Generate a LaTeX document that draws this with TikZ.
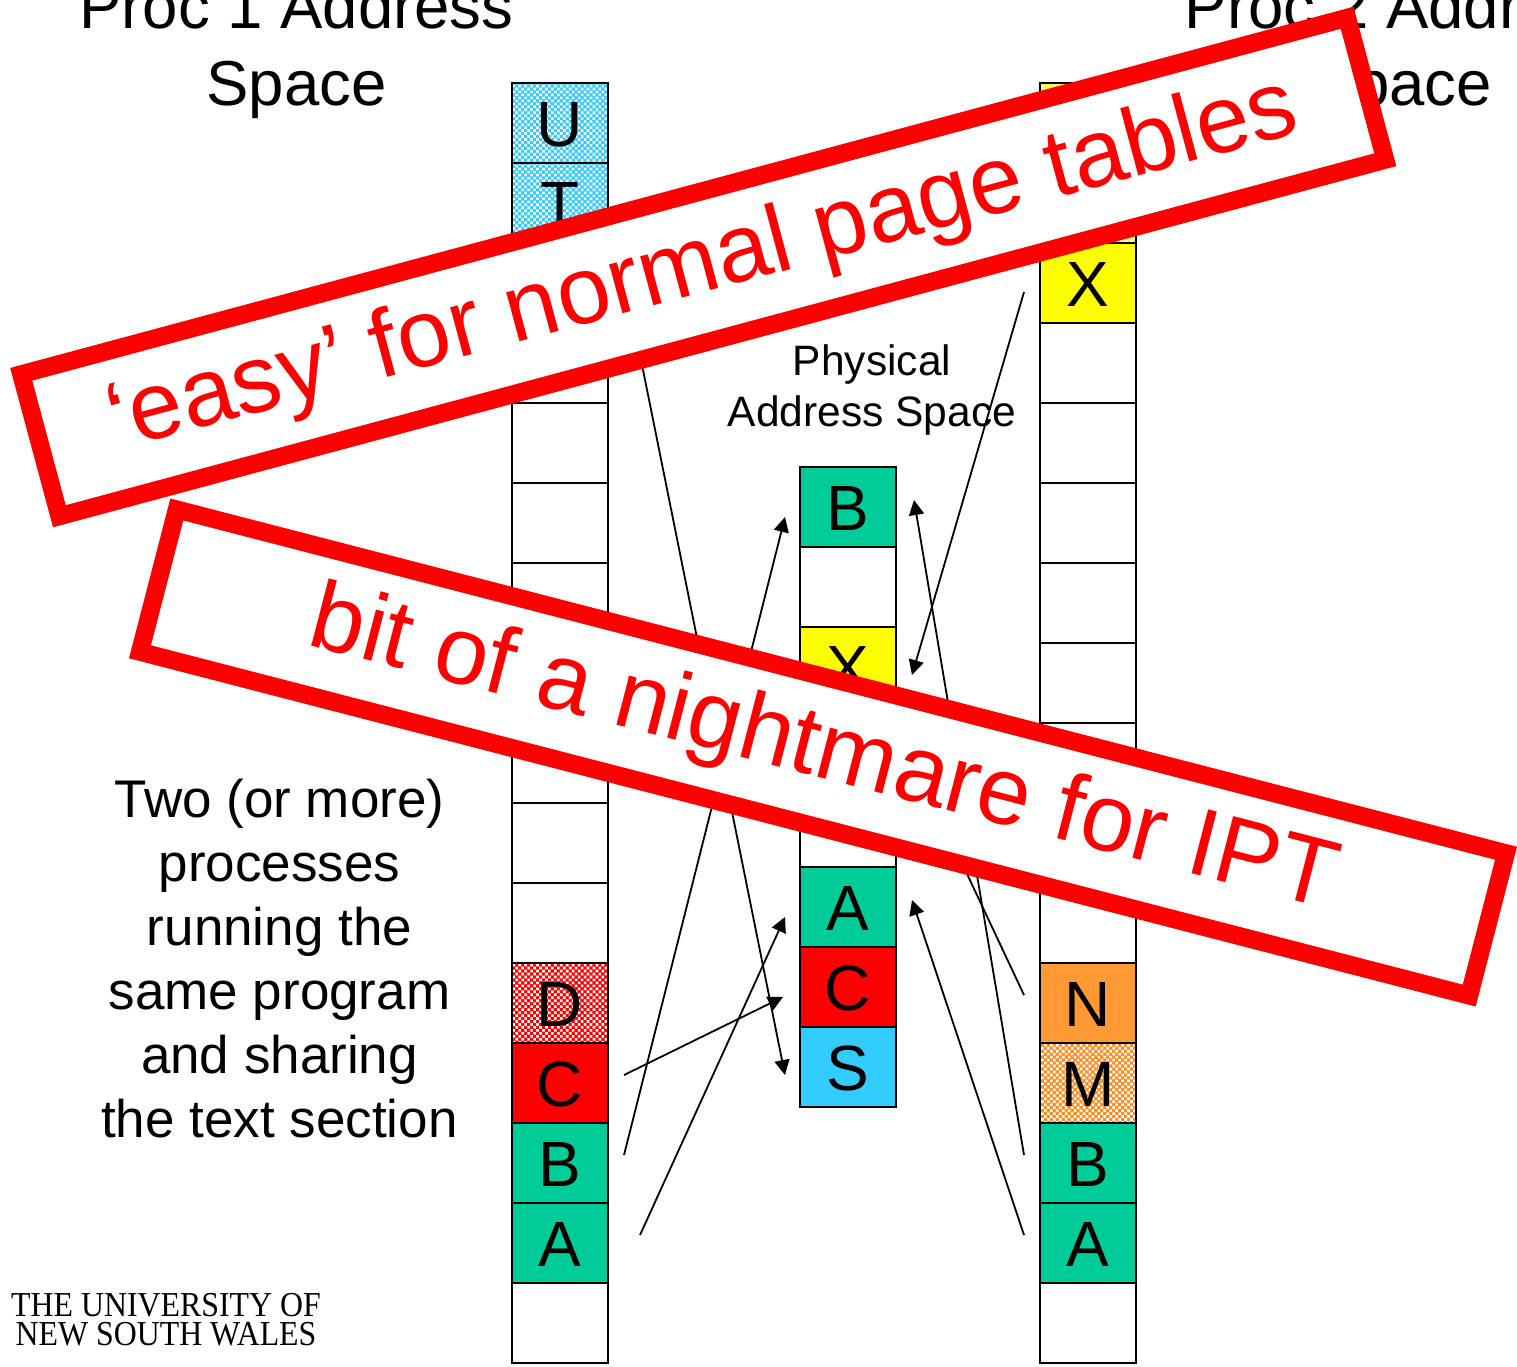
\documentclass[tikz,border=0pt]{standalone}
\usepackage{fontspec}
\setmainfont{Liberation Sans}
\newfontfamily\logofont[FakeStretch=0.91]{Liberation Serif}
\usetikzlibrary{arrows.meta,patterns.meta}
\definecolor{cgreen}{RGB}{0,204,153}
\definecolor{cblue}{RGB}{51,204,255}
\definecolor{corange}{RGB}{255,153,51}
\definecolor{cdot}{RGB}{255,140,30}
\definecolor{cyellow}{RGB}{255,255,0}
\definecolor{cred}{RGB}{255,0,0}
\newcommand{\fsz}[1]{\fontsize{#1}{#1}\selectfont}
\tikzset{
  cell/.style={draw=black,line width=2pt,minimum width=96pt,minimum height=80pt,inner sep=0pt,outer sep=0pt,font=\fsz{64},text height=46pt,text depth=0pt,anchor=center},
  holes/.style={preaction={fill=#1},preaction={pattern={Dots[distance=4.2pt,radius=1.85pt,angle=45]},pattern color=white}},
  conn/.style={draw=black,line width=1.8pt,-{Triangle[length=15pt,width=15pt]}},
  banner/.style={draw=cred,line width=18pt,fill=white,text=cred,font=\fsz{96},inner sep=0pt,outer sep=0pt,align=center,anchor=center,minimum width=1373pt,minimum height=147pt},
  title/.style={font=\fsz{63.5},align=center,anchor=center,inner sep=0pt},
}
\begin{document}
\begin{tikzpicture}[x=1pt,y=-1pt]
\useasboundingbox (0,0) rectangle (1517,1366);
\clip (0,0) rectangle (1517,1366);
% left column
\node[cell,holes=cblue] (lu) at (560,123) {U};
\node[cell,holes=cblue] (lt) at (560,203) {T};
\node[cell] (l3) at (560,283) {};
\node[cell] (l4) at (560,363) {};
\node[cell] (l5) at (560,443) {};
\node[cell] (l6) at (560,523) {};
\node[cell] (l7) at (560,603) {};
\node[cell] (l8) at (560,683) {};
\node[cell] (l9) at (560,763) {};
\node[cell] (l10) at (560,843) {};
\node[cell] (l11) at (560,923) {};
\node[cell,holes=cred] (ld) at (560,1003) {D};
\node[cell,fill=cred] (lc) at (560,1083) {C};
\node[cell,fill=cgreen] (lb) at (560,1163) {B};
\node[cell,fill=cgreen] (la) at (560,1243) {A};
\node[cell] (l16) at (560,1323) {};
% right column
\node[cell,holes=cyellow] (r1) at (1088,123) {};
\node[cell,holes=cyellow] (r2) at (1088,203) {};
\node[cell,fill=cyellow] (rx) at (1088,283) {X};
\node[cell] (r4) at (1088,363) {};
\node[cell] (r5) at (1088,443) {};
\node[cell] (r6) at (1088,523) {};
\node[cell] (r7) at (1088,603) {};
\node[cell] (r8) at (1088,683) {};
\node[cell] (r9) at (1088,763) {};
\node[cell] (r10) at (1088,843) {};
\node[cell] (r11) at (1088,923) {};
\node[cell,fill=corange] (rn) at (1088,1003) {N};
\node[cell,holes=cdot] (rm) at (1088,1083) {M};
\node[cell,fill=cgreen] (rb) at (1088,1163) {B};
\node[cell,fill=cgreen] (ra) at (1088,1243) {A};
\node[cell] (r16) at (1088,1323) {};
% middle column
\node[cell,fill=cgreen] (mb) at (848,507) {B};
\node[cell] (m2) at (848,587) {};
\node[cell,fill=cyellow] (mx) at (848,667) {X};
\node[cell] (m4) at (848,747) {};
\node[cell] (m5) at (848,827) {};
\node[cell,fill=cgreen] (ma) at (848,907) {A};
\node[cell,fill=cred] (mc) at (848,987) {C};
\node[cell,fill=cblue] (ms) at (848,1067) {S};
% connector ends
\coordinate (ls) at (638,345);
\coordinate (st) at (785,1075);
\coordinate (lbs) at (624,1155);
\coordinate (lbt) at (785,517);
\coordinate (lcs) at (624,1075);
\coordinate (lct) at (783,997);
\coordinate (las) at (640,1235);
\coordinate (lat) at (785,917);
\coordinate (rxs) at (1024,292);
\coordinate (rxt) at (912,675);
\coordinate (rns) at (1024,995);
\coordinate (rnt) at (912,757);
\coordinate (rbs) at (1024,1155);
\coordinate (rbt) at (914,500);
\coordinate (ras) at (1024,1235);
\coordinate (rat) at (912,900);
\draw[conn] (ls) -- (st);
\draw[conn] (lbs) -- (lbt);
\draw[conn] (lcs) -- (lct);
\draw[conn] (las) -- (lat);
\draw[conn] (rxs) -- (rxt);
\draw[conn] (rns) -- (rnt);
\draw[conn] (rbs) -- (rbt);
\draw[conn] (ras) -- (rat);
% text
\node[title] (t1) at (296.5,51) {Proc 1 Address\\[13.5pt]Space};
\node[title] (t2) at (1402,51) {Proc 2 Address\\[13.5pt]Space};
\node[font=\fsz{42.5},align=center,inner sep=0pt] (phys) at (872,390) {Physical\\[8.5pt]Address Space};
\node[font=\fsz{53},align=center,inner sep=0pt] (desc) at (279.5,959) {Two (or more)\\[11pt]processes\\[11pt]running the\\[11pt]same program\\[11pt]and sharing\\[11pt]the text section};
\node[font=\logofont\fsz{35},align=center,inner sep=0pt] (logo) at (166,1320) {THE UNIVERSITY OF\\[-6pt]NEW SOUTH WALES};
% banners
\node[banner,rotate=15.05] (b1) at (703.25,267) {‘easy’ for normal page tables};
\node[banner,rotate=-14.5] (b2) at (823,752.5) {bit of a nightmare for IPT};
\end{tikzpicture}
\end{document}
